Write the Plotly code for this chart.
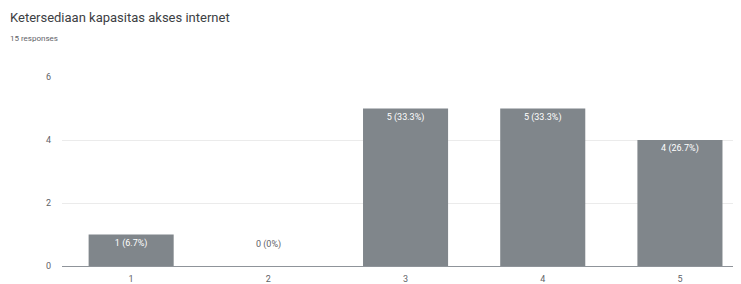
import plotly.graph_objects as go

categories = [1, 2, 3, 4, 5]
tick_labels = ["1", "2", "3", "4", "5"]
counts = [1, 0, 5, 5, 4]
percents = ["6.7%", "0%", "33.3%", "33.3%", "26.7%"]

labels = [f"{c} ({p})" for c, p in zip(counts, percents)]

W, H = 733, 276
L, R, T, B = 54, 0, 69, 18
PW, PH = W - L - R, H - T - B

fig = go.Figure()
fig.add_trace(go.Bar(
    x=categories,
    y=counts,
    width=0.62,
    marker=dict(color="#80868b", line=dict(width=0)),
    text=[l if c > 0 else "" for l, c in zip(labels, counts)],
    textposition="inside",
    insidetextanchor="end",
    textangle=0,
    textfont=dict(color="white", size=9, family="Roboto"),
    cliponaxis=False,
))

for x, c, l in zip(categories, counts, labels):
    if c == 0:
        fig.add_annotation(x=x, y=c, text=l, showarrow=False, yshift=22,
                           font=dict(color="#5f6368", size=9, family="Roboto"))

fig.update_layout(
    width=W, height=H,
    margin=dict(l=L, r=R, t=T, b=B),
    paper_bgcolor="white", plot_bgcolor="white",
    showlegend=False,
    font=dict(family="Roboto", color="#5f6368"),
)
fig.add_annotation(xref="paper", yref="paper", x=-L / PW, y=1 + (T - 9) / PH,
                   xanchor="left", yanchor="middle",
                   text="Ketersediaan kapasitas akses internet", showarrow=False,
                   font=dict(size=13, color="#3c4043", family="Roboto"))
fig.add_annotation(xref="paper", yref="paper", x=-L / PW, y=1 + (T - 30) / PH,
                   xanchor="left", yanchor="middle",
                   text="15 responses", showarrow=False,
                   font=dict(size=8, color="#5f6368", family="Roboto"))

fig.update_xaxes(range=[0.496, 5.445], tickvals=categories, ticktext=tick_labels,
                 showgrid=False, zeroline=False, showline=True, linecolor="#8f949a", linewidth=1,
                 ticks="", ticklabelstandoff=4,
                 tickfont=dict(size=9, color="#5f6368"), fixedrange=True)
fig.update_yaxes(range=[0, 6], tickvals=[0, 2, 4, 6], showgrid=True, gridcolor="#ebebeb",
                 zeroline=False, ticks="", ticklabelstandoff=10,
                 tickfont=dict(size=9, color="#5f6368"), fixedrange=True)

fig.write_html("out.html")
